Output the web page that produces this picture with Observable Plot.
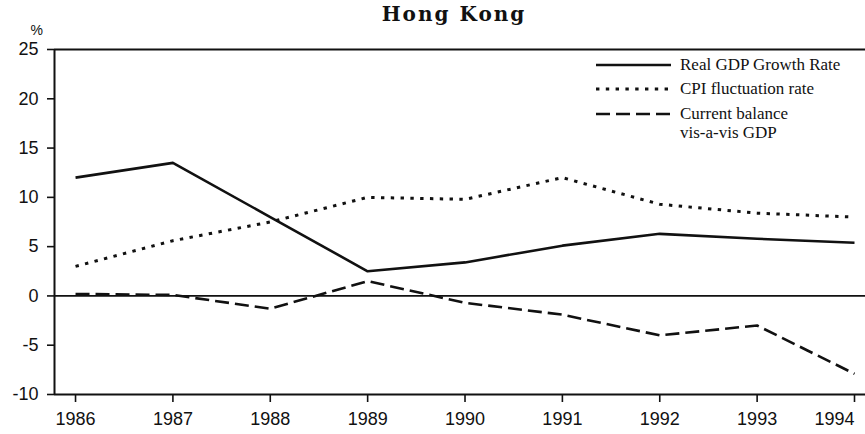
<!DOCTYPE html>
<html><head><meta charset="utf-8">
<script src="https://cdn.jsdelivr.net/npm/d3@7"></script>
<script src="https://cdn.jsdelivr.net/npm/@observablehq/plot@0.6"></script>
<style>
html,body{margin:0;padding:0;background:#fff;overflow:hidden;}
#wrap{position:relative;width:865px;height:434px;}
#title{position:absolute;left:0;top:0;width:908px;text-align:center;font-family:"DejaVu Serif";font-weight:bold;font-size:20px;line-height:28px;letter-spacing:2px;color:#111;z-index:3;}
#chart{position:absolute;left:0;top:20px;z-index:1;}
#legend{position:absolute;left:596px;top:0;font-family:"Liberation Serif";font-size:17px;color:#111;z-index:2;}
.row{position:absolute;left:0;white-space:nowrap;}
.row svg{position:absolute;left:0;top:0;}
.row span{position:absolute;left:84px;line-height:18px;white-space:nowrap;}
</style></head>
<body>
<div id="wrap">
  <div id="chart"></div>
  <div id="title"></div>
  <div id="legend"></div>
</div>
<script>
const title = "Hong Kong";
const years = [1986, 1987, 1988, 1989, 1990, 1991, 1992, 1993, 1994];
const gdpGrowth = [12.0, 13.5, 8.0, 2.5, 3.4, 5.1, 6.3, 5.8, 5.4];
const cpiRate = [3.0, 5.6, 7.5, 10.0, 9.8, 12.0, 9.3, 8.4, 8.0];
const currentBalance = [0.2, 0.1, -1.3, 1.5, -0.7, -1.9, -4.0, -3.0, -7.9];
const seriesNames = ["Real GDP Growth Rate", "CPI fluctuation rate", "Current balance\nvis-a-vis GDP"];
const yTicks = [-10, -5, 0, 5, 10, 15, 20, 25];
const yUnit = "%";

const dashes = [null, "3.4,6.4", "14,6"];
const seriesValues = [gdpGrowth, cpiRate, currentBalance];
const data = seriesValues.flatMap((vals, i) => years.map((yr, j) => ({year: yr, value: vals[j], series: seriesNames[i], k: i})));

const xDomain = [1985.784, 1994.113];
const yDomain = [-10, 25];

document.getElementById("title").textContent = title;

const lastYear = years[years.length - 1];
const marks = [
  Plot.axisX({ticks: years, tickFormat: d => String(d), tickSize: 8, tickPadding: 10, strokeWidth: 1.6, fontSize: 18, label: null, text: null}),
  Plot.axisX({ticks: years.slice(0, -1), tickFormat: d => String(d), tickSize: 0, tickPadding: 18, fontSize: 18, label: null}),
  Plot.axisX({ticks: [lastYear], tickFormat: d => String(d), tickSize: 0, tickPadding: 18, fontSize: 18, textAnchor: "end", dx: 0, label: null}),
  Plot.axisY({ticks: yTicks, tickFormat: d => String(d), tickSize: 7, tickPadding: 9, strokeWidth: 1.6, fontSize: 18, label: null}),
  Plot.ruleY(yDomain, {strokeWidth: 2, stroke: "#111"}),
  Plot.ruleX([xDomain[0]], {strokeWidth: 2, stroke: "#111"}),
  Plot.ruleY([0], {strokeWidth: 1.8, stroke: "#111"}),
  Plot.text([yUnit], {frameAnchor: "top-left", lineAnchor: "middle", dx: -24, dy: -19, fontSize: 14, fill: "#111"})
];
seriesNames.forEach((name, i) => {
  marks.push(Plot.line(data.filter(d => d.k === i), {
    x: "year", y: "value", stroke: "#111", strokeWidth: i === 1 ? 3 : 2.6,
    strokeDasharray: dashes[i], strokeLinecap: "butt", strokeLinejoin: "round"
  }));
});

const chart = Plot.plot({
  width: 865, height: 414,
  marginLeft: 54, marginRight: 0, marginTop: 29, marginBottom: 40,
  x: {type: "linear", domain: xDomain},
  y: {domain: yDomain},
  style: {fontFamily: "Liberation Sans", fontSize: "18px", color: "#111", background: "#fff"},
  marks
});
document.getElementById("chart").appendChild(chart);

// legend
const legendRows = [65, 89, 114];
const lineGap = 19;
const leg = document.getElementById("legend");
seriesNames.forEach((name, i) => {
  const row = document.createElement("div");
  row.className = "row";
  row.style.top = (legendRows[i] - 9) + "px";
  const svg = d3.create("svg").attr("width", 78).attr("height", 18);
  svg.append("line").attr("x1", 0).attr("x2", 75).attr("y1", 9).attr("y2", 9)
    .attr("stroke", "#111").attr("stroke-width", i === 1 ? 3 : 2.6)
    .attr("stroke-dasharray", dashes[i]);
  row.appendChild(svg.node());
  name.split("\n").forEach((part, j) => {
    const span = document.createElement("span");
    span.textContent = part;
    span.style.top = (j * lineGap) + "px";
    row.appendChild(span);
  });
  leg.appendChild(row);
});
</script>
</body></html>
